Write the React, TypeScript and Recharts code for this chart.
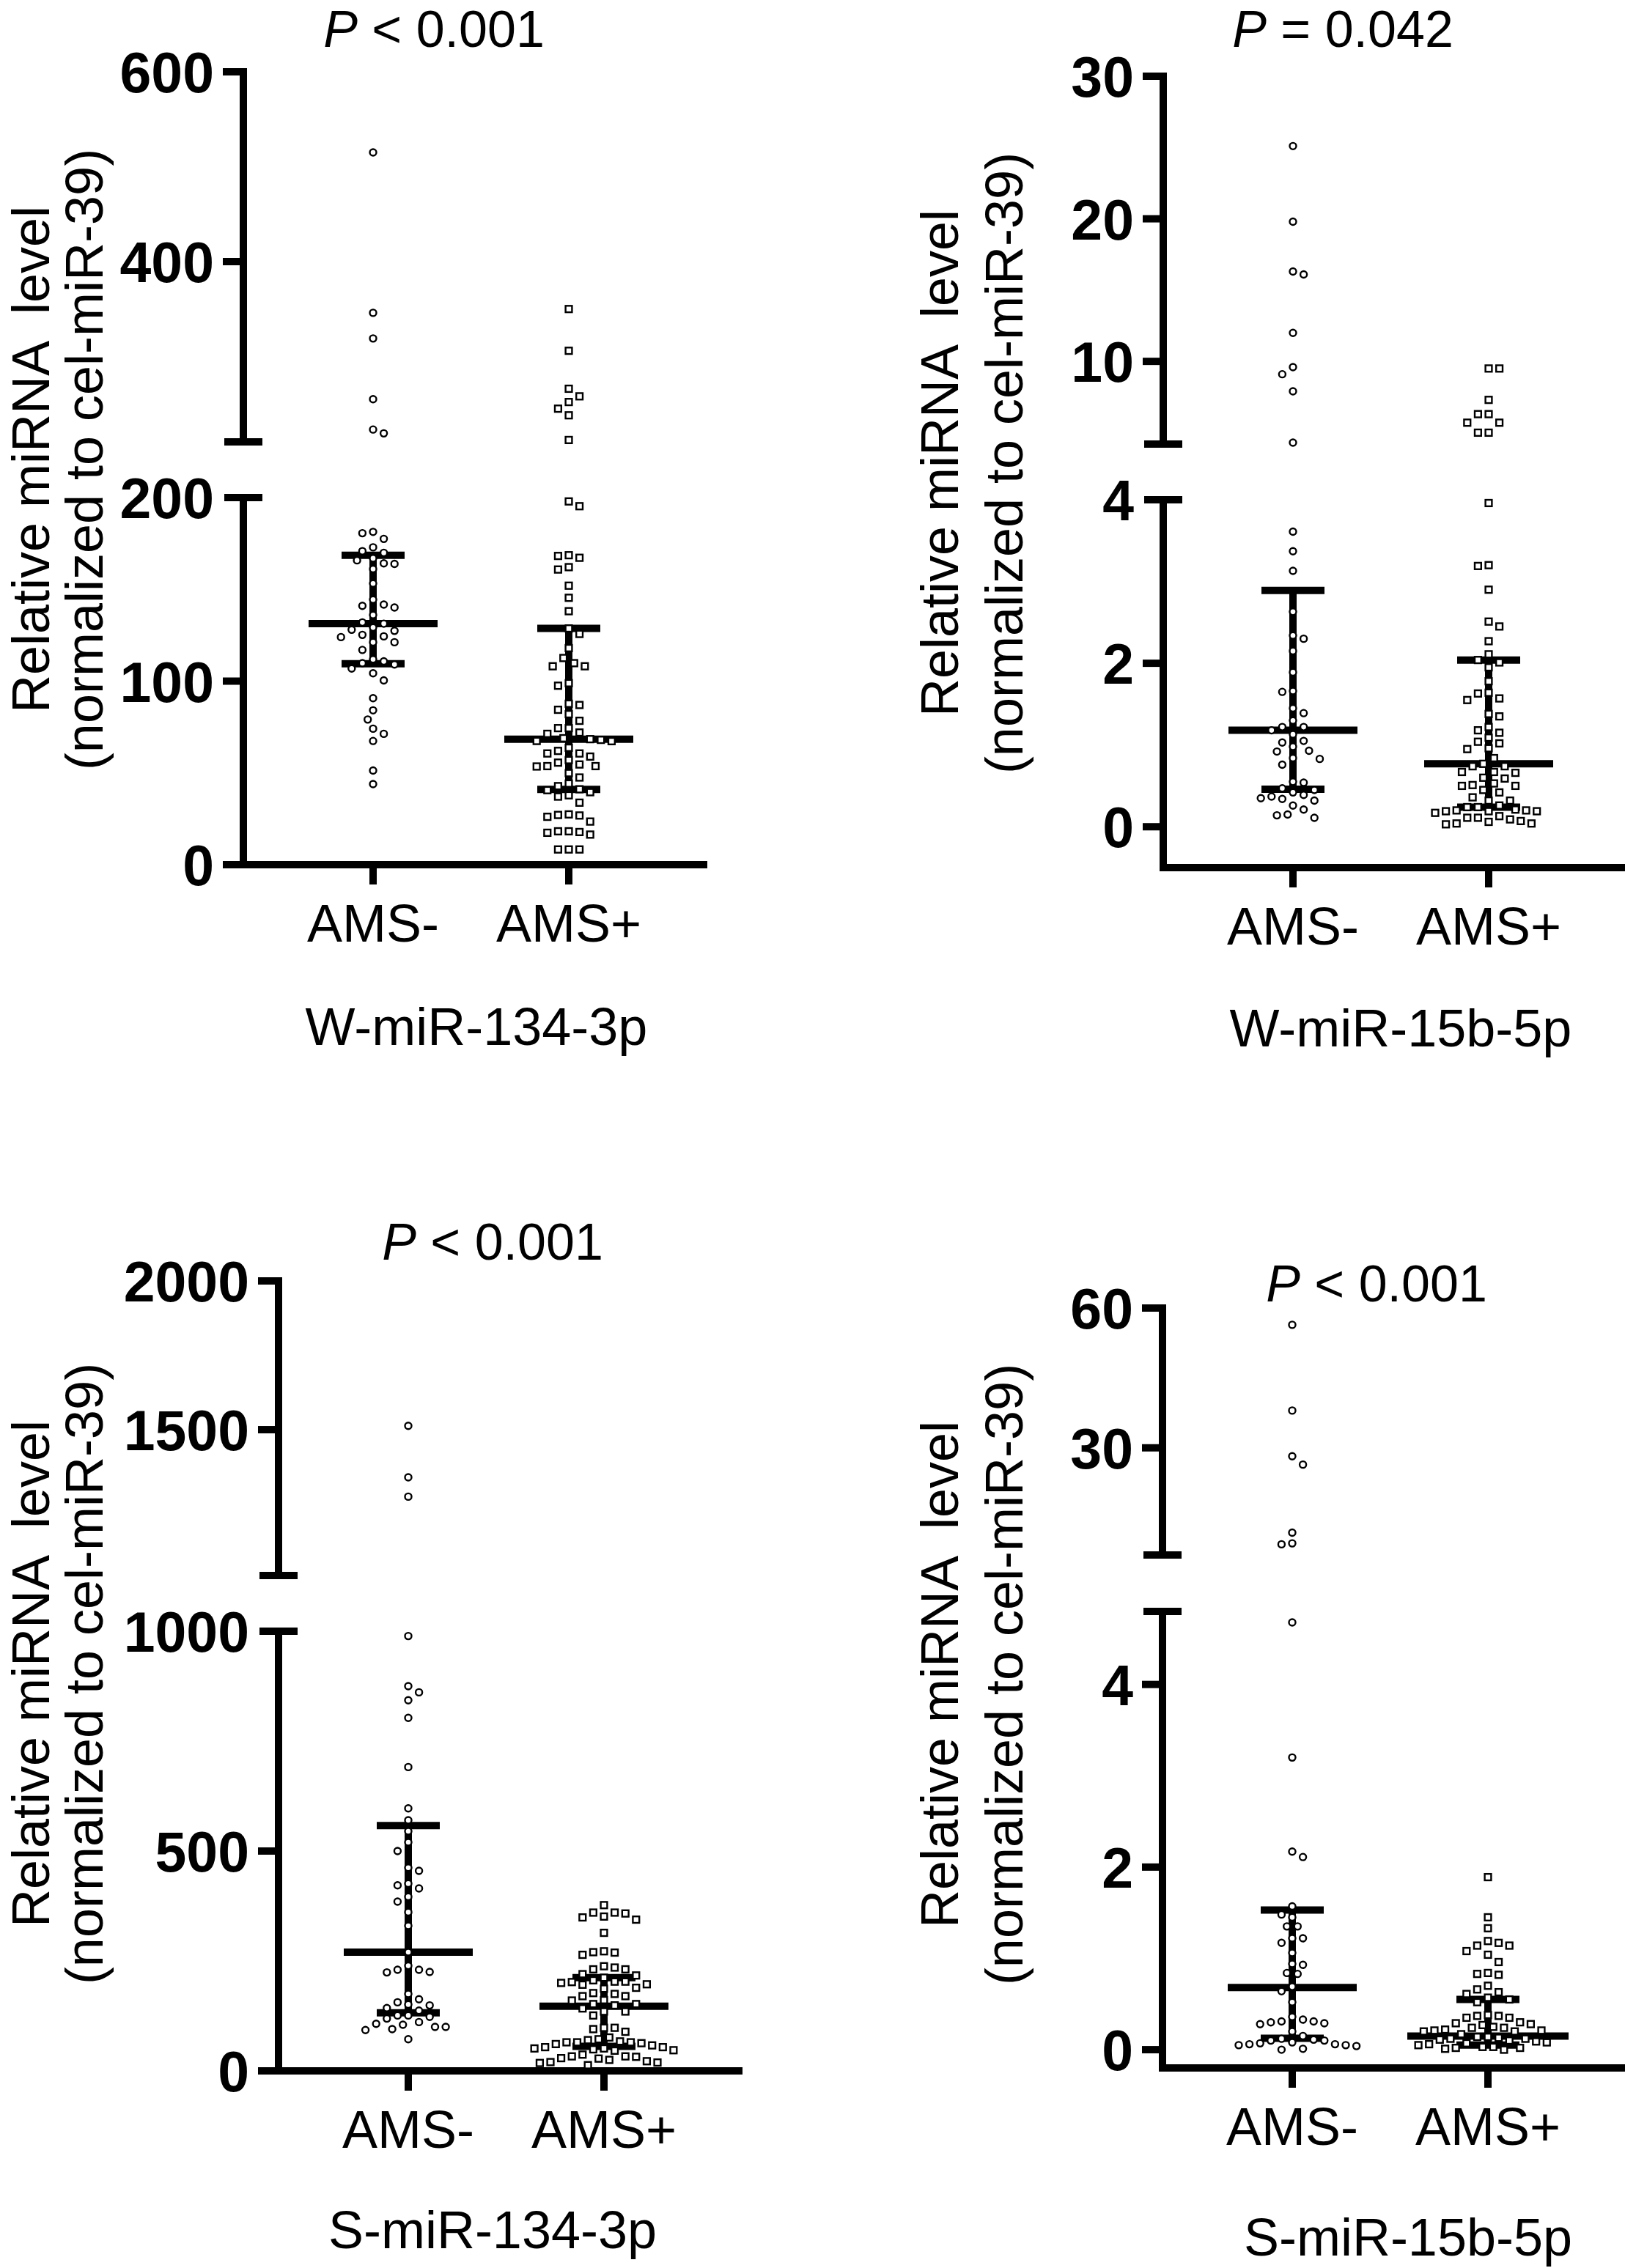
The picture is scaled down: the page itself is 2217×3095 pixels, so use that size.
import React from 'react';
import { ScatterChart, Scatter, XAxis, YAxis } from 'recharts';

const FONT = '"Liberation Sans", Arial, Helvetica, sans-serif';

const groups = ['AMS-', 'AMS+'];
const groupPos = [1, 2];

// W-miR-134-3p
const w134Neg = [515, 346, 319, 255, 223, 219,
  181.3, 180.6, 177.5, 172.9, 170.8, 169.9, 166.9, 165.8, 164.2, 163.9, 161.1, 153.2, 144.4, 141.7,
  141.0, 140.1, 136.0, 132.0, 131.3, 129.2, 128.0, 127.4, 125.2, 124.4, 124.0, 121.2, 121.2, 117.0,
  111.9, 110.8, 109.8, 109.1, 106.9, 104.3, 100.4, 90.7, 84.1, 79.1, 74.1, 71.3, 67.4, 51.3, 43.9];
const w134Pos = [350, 306, 266, 258, 252, 245, 238, 212,
  197.9, 195.3, 168.6, 168.2, 167.2, 162.1, 160.8, 152.0, 145.4, 138.1, 128.7, 125.7, 118.0, 112.6,
  109.8, 108.1, 108.1, 98.9, 97.5, 87.7, 87.0, 84.4, 82.0, 78.4, 74.4, 74.4, 72.0, 71.3, 68.9, 68.4,
  68.0, 67.4, 67.3, 63.7, 62.0, 60.6, 60.6, 58.9, 57.0, 55.6, 54.6, 53.7, 53.7, 53.5, 49.9, 47.5,
  44.2, 42.8, 41.1, 40.6, 39.5, 37.8, 37.1, 33.8, 27.4, 27.1, 26.8, 26.1, 23.5, 18.2, 18.2, 17.8,
  17.4, 16.4, 8.3, 8.3, 8.3];
const w134Median = [131.3, 68.4];
const w134Q1 = [109.5, 41];
const w134Q3 = [168.6, 128.7];
const w134UpperDomain = [210, 600];
const w134UpperLabels = [400, 600];
const w134LowerDomain = [0, 200];
const w134LowerLabels = [0, 100, 200];

// W-miR-15b-5p
const w15bNeg = [25.1, 19.8, 16.3, 16.1, 12.0, 9.6, 9.1, 7.9, 4.3,
  3.61, 3.37, 3.13, 2.63, 2.34, 2.30, 2.15, 1.89, 1.66, 1.65, 1.45, 1.39, 1.30, 1.22, 1.22, 1.18,
  1.13, 1.05, 1.03, 0.98, 0.93, 0.92, 0.84, 0.83, 0.76, 0.55, 0.54, 0.47, 0.45, 0.42, 0.39, 0.37,
  0.35, 0.34, 0.32, 0.26, 0.21, 0.15, 0.14, 0.11];
const w15bPos = [9.5, 9.5, 7.3, 6.3, 6.3, 5.7, 5.7, 5.0, 5.0,
  3.96, 3.20, 3.19, 2.90, 2.51, 2.45, 2.27, 2.11, 2.04, 2.01, 1.95, 1.78, 1.64, 1.63, 1.57, 1.55,
  1.38, 1.35, 1.22, 1.18, 1.15, 1.09, 1.04, 1.02, 0.96, 0.95, 0.84, 0.77, 0.74, 0.74, 0.67, 0.67,
  0.66, 0.60, 0.59, 0.53, 0.51, 0.50, 0.50, 0.45, 0.42, 0.36, 0.32, 0.32, 0.26, 0.24, 0.24, 0.21,
  0.20, 0.20, 0.19, 0.19, 0.19, 0.17, 0.13, 0.11, 0.11, 0.09, 0.07, 0.06, 0.04, 0.04, 0.03];
const w15bMedian = [1.18, 0.77];
const w15bQ1 = [0.46, 0.24];
const w15bQ3 = [2.89, 2.04];
const w15bUpperDomain = [4.2, 30];
const w15bUpperLabels = [10, 20, 30];
const w15bLowerDomain = [-0.5, 4];
const w15bLowerLabels = [0, 2, 4];

// S-miR-134-3p
const s134Neg = [1513, 1340, 1275,
  989, 875, 861, 843, 803, 691, 597, 570, 545, 520, 500, 462, 455, 426, 422, 415, 396, 385, 361,
  330, 270, 239, 230, 230, 225, 224, 175, 163, 156, 151, 149, 143, 137, 126, 126, 123, 119, 111,
  107, 105, 100, 100, 95, 93, 72];
const s134Pos = [377, 360, 360, 358, 351, 349, 344, 314, 272, 270, 269, 264, 238, 235, 231, 231,
  220, 217, 212, 206, 203, 203, 202, 200, 197, 196, 189, 187, 177, 175, 170, 170, 161, 160, 152,
  152, 149, 142, 135, 135, 126, 98, 98, 95, 89, 76, 72, 70, 67, 65, 65, 65, 63, 61, 58, 54, 54, 51,
  51, 49, 47, 46, 37, 33, 33, 32, 29, 28, 25, 22, 20, 19, 18, 13];
const s134Median = [270, 147];
const s134Q1 = [132, 56];
const s134Q3 = [558, 212];
const s134UpperDomain = [1010, 2000];
const s134UpperLabels = [1500, 2000];
const s134LowerDomain = [0, 1000];
const s134LowerLabels = [0, 500, 1000];

// S-miR-15b-5p
const s15bNeg = [56.4, 38.0, 28.2, 26.4, 11.8, 9.5, 9.3,
  4.68, 3.20, 2.17, 2.11, 1.57, 1.48, 1.45, 1.35, 1.35, 1.22, 1.22, 1.17, 1.06, 0.94, 0.93, 0.84,
  0.83, 0.69, 0.64, 0.52, 0.36, 0.33, 0.31, 0.31, 0.30, 0.29, 0.28, 0.20, 0.15, 0.12, 0.11, 0.10,
  0.10, 0.08, 0.07, 0.06, 0.06, 0.05, 0.05, 0.04, 0.01, 0.00];
const s15bPos = [1.89, 1.45, 1.33, 1.19, 1.17, 1.14, 1.14, 1.08, 1.04, 0.96, 0.84, 0.83, 0.82,
  0.70, 0.66, 0.63, 0.61, 0.57, 0.55, 0.52, 0.38, 0.37, 0.37, 0.35, 0.35, 0.30, 0.29, 0.28, 0.27,
  0.25, 0.24, 0.24, 0.22, 0.21, 0.21, 0.20, 0.20, 0.17, 0.14, 0.14, 0.13, 0.12, 0.12, 0.11, 0.10,
  0.09, 0.08, 0.07, 0.06, 0.05, 0.03, 0.03, 0.02, 0.02, 0.01, 0.00];
const s15bMedian = [0.68, 0.15];
const s15bQ1 = [0.125, 0.05];
const s15bQ3 = [1.53, 0.55];
const s15bUpperDomain = [7, 60];
const s15bUpperLabels = [30, 60];
const s15bLowerDomain = [-0.2, 4.8];
const s15bLowerLabels = [0, 2, 4];

// geometry (px)
const PX_PER_X = 267;
const PLOT_W = 628;
const X_DOMAIN = [1 - 177 / PX_PER_X, 1 - 177 / PX_PER_X + PLOT_W / PX_PER_X];
const Y_W = 220;
const X_H = 150;
const PAD = 45;
const LW = 10;
const STEP = 7.3;
const MIN_DIST = 14.2;

const panels = [
  {
    values: [w134Neg, w134Pos], median: w134Median, q1: w134Q1, q3: w134Q3,
    upper: { domain: w134UpperDomain, labels: w134UpperLabels, top: 98, bottom: 603 },
    lower: { domain: w134LowerDomain, labels: w134LowerLabels, top: 679, bottom: 1180 },
    axisX: 332, title: ' < 0.001', titleX: 592, titleY: 64,
    name: 'W-miR-134-3p', nameX: 650, nameY: 1426, labelX: [67, 140], labelY: 627, medianHalf: [88, 88],
  },
  {
    values: [w15bNeg, w15bPos], median: w15bMedian, q1: w15bQ1, q3: w15bQ3,
    upper: { domain: w15bUpperDomain, labels: w15bUpperLabels, top: 104, bottom: 606 },
    lower: { domain: w15bLowerDomain, labels: w15bLowerLabels, top: 682, bottom: 1184 },
    axisX: 1587, title: ' = 0.042', titleX: 1832, titleY: 64,
    name: 'W-miR-15b-5p', nameX: 1911, nameY: 1428, labelX: [1307, 1395], labelY: 632, medianHalf: [88, 88],
  },
  {
    values: [s134Neg, s134Pos], median: s134Median, q1: s134Q1, q3: s134Q3,
    upper: { domain: s134UpperDomain, labels: s134UpperLabels, top: 1748, bottom: 2150 },
    lower: { domain: s134LowerDomain, labels: s134LowerLabels, top: 2226, bottom: 2826 },
    axisX: 380, title: ' < 0.001', titleX: 672, titleY: 1719,
    name: 'S-miR-134-3p', nameX: 672, nameY: 3068, labelX: [67, 140], labelY: 2284, medianHalf: [88, 88],
  },
  {
    values: [s15bNeg, s15bPos], median: s15bMedian, q1: s15bQ1, q3: s15bQ3,
    upper: { domain: s15bUpperDomain, labels: s15bUpperLabels, top: 1785, bottom: 2122 },
    lower: { domain: s15bLowerDomain, labels: s15bLowerLabels, top: 2199, bottom: 2822 },
    axisX: 1586, title: ' < 0.001', titleX: 1878, titleY: 1776,
    name: 'S-miR-15b-5p', nameX: 1921, nameY: 3078, labelX: [1307, 1395], labelY: 2285, medianHalf: [88, 110],
  },
];

type Seg = { domain: number[]; labels: number[]; top: number; bottom: number };

const segPy = (seg: Seg, v: number) =>
  seg.top + ((seg.domain[1] - v) * (seg.bottom - seg.top)) / (seg.domain[1] - seg.domain[0]);

// simple beeswarm: horizontal offsets (px) so the markers do not overlap
function swarm(values: number[], toPy: (v: number) => number): number[] {
  const order = values.map((_, i) => i).sort((a, b) => values[b] - values[a]);
  const placed: { px: number; py: number }[] = [];
  const out = new Array(values.length).fill(0);
  let flip = 1;
  for (const i of order) {
    const py = toPy(values[i]);
    const near = placed.filter((p) => Math.abs(p.py - py) < MIN_DIST);
    let chosen = 0;
    for (let k = 0; k < 60; k++) {
      const cands = k === 0 ? [0] : [flip * k * STEP, -flip * k * STEP];
      const ok = cands.find((c) => near.every((p) => Math.hypot(p.px - c, p.py - py) >= MIN_DIST));
      if (ok !== undefined) {
        chosen = ok;
        break;
      }
    }
    if (chosen !== 0) flip = -flip;
    placed.push({ px: chosen, py });
    out[i] = chosen;
  }
  return out;
}

const Circle = (p: any) => (
  <circle cx={p.cx} cy={p.cy} r={4.5} fill="#fff" stroke="#000" strokeWidth={2.4} />
);
const Square = (p: any) => (
  <rect x={p.cx - 4.4} y={p.cy - 4.4} width={8.8} height={8.8} fill="#fff" stroke="#000" strokeWidth={2.4} />
);
const Nothing = () => <g />;

const renderYTick = (p: any, labels: number[], cap: number) => {
  const v = p.payload.value;
  const isCap = Math.abs(v - cap) < 1e-9;
  return (
    <g>
      <line x1={p.x - (isCap ? 26 : 28)} x2={p.x + (isCap ? 26 : 0)} y1={p.y} y2={p.y} stroke="#000" strokeWidth={LW} />
      {labels.includes(v) && (
        <text x={p.x - 40} y={p.y + 28} textAnchor="end" fontFamily={FONT} fontWeight="bold" fontSize={77} fill="#000">
          {v}
        </text>
      )}
    </g>
  );
};

const renderXTick = (p: any) => (
  <g>
    <line x1={p.x} x2={p.x} y1={p.y} y2={p.y + 27} stroke="#000" strokeWidth={LW} />
    <text x={p.x} y={p.y + 105} textAnchor="middle" fontFamily={FONT} fontSize={72} fill="#000">
      {groups[groupPos.indexOf(p.payload.value)]}
    </text>
  </g>
);

function Segment({ panel, which }: { panel: any; which: 'upper' | 'lower' }) {
  const seg: Seg = panel[which];
  const isLower = which === 'lower';
  const segH = seg.bottom - seg.top;
  const cap = isLower ? seg.domain[1] : seg.domain[0];
  const ticks = Array.from(new Set([...seg.labels, cap])).sort((a, b) => a - b);
  const limit = panel.lower.domain[1];
  const toPy = (v: number) => (v > limit ? segPy(panel.upper, v) : segPy(panel.lower, v));

  const pointSets = panel.values.map((vals: number[], g: number) => {
    const offs = swarm(vals, toPy);
    return vals
      .map((v, i) => ({ x: groupPos[g] + offs[i] / PX_PER_X, y: v }))
      .filter((d) => (isLower ? d.y <= limit : d.y > limit));
  });

  const summary: { key: string; data: { x: number; y: number }[] }[] = [];
  if (isLower) {
    groupPos.forEach((gx, g) => {
      const mh = panel.medianHalf[g] / PX_PER_X;
      const ch = 43 / PX_PER_X;
      summary.push({ key: `v${g}`, data: [{ x: gx, y: panel.q1[g] }, { x: gx, y: panel.q3[g] }] });
      summary.push({ key: `t${g}`, data: [{ x: gx - ch, y: panel.q3[g] }, { x: gx + ch, y: panel.q3[g] }] });
      summary.push({ key: `b${g}`, data: [{ x: gx - ch, y: panel.q1[g] }, { x: gx + ch, y: panel.q1[g] }] });
      summary.push({ key: `m${g}`, data: [{ x: gx - mh, y: panel.median[g] }, { x: gx + mh, y: panel.median[g] }] });
    });
  }

  const width = Y_W + PLOT_W + 20;
  const height = PAD + segH + (isLower ? X_H : 20);

  return (
    <div style={{ position: 'absolute', left: panel.axisX - Y_W, top: seg.top - PAD }}>
      <ScatterChart width={width} height={height} margin={{ top: PAD, right: 20, bottom: isLower ? 0 : 20, left: 0 }}>
        <XAxis
          type="number"
          dataKey="x"
          domain={X_DOMAIN}
          ticks={groupPos}
          interval={0}
          hide={!isLower}
          height={X_H}
          tickSize={0}
          tickMargin={0}
          tick={renderXTick}
          axisLine={{ stroke: '#000', strokeWidth: LW, strokeLinecap: 'square' }}
        />
        <YAxis
          type="number"
          dataKey="y"
          domain={seg.domain}
          ticks={ticks}
          interval={0}
          width={Y_W}
          tickSize={0}
          tickMargin={0}
          tick={(p: any) => renderYTick(p, seg.labels, cap)}
          axisLine={{ stroke: '#000', strokeWidth: LW, strokeLinecap: 'square' }}
        />
        {summary.map((s) => (
          <Scatter
            key={s.key}
            data={s.data}
            shape={Nothing}
            line={{ stroke: '#000', strokeWidth: LW }}
            isAnimationActive={false}
          />
        ))}
        <Scatter data={pointSets[0]} shape={Circle} isAnimationActive={false} />
        <Scatter data={pointSets[1]} shape={Square} isAnimationActive={false} />
      </ScatterChart>
    </div>
  );
}

export default function App() {
  return (
    <div style={{ position: 'absolute', left: 0, top: 0, width: 2217, height: 3095, background: '#fff' }}>
      <svg width={2217} height={3095} style={{ position: 'absolute', left: 0, top: 0 }}>
        {panels.map((p, i) => (
          <g key={i} fontFamily={FONT} fill="#000">
            <text x={p.titleX} y={p.titleY} textAnchor="middle" fontSize={70} xmlSpace="preserve" style={{ whiteSpace: 'pre' }}>
              <tspan fontStyle="italic">P</tspan>
              {p.title}
            </text>
            <text x={p.nameX} y={p.nameY} textAnchor="middle" fontSize={72}>
              {p.name}
            </text>
            <text
              transform={`translate(${p.labelX[0]},${p.labelY}) rotate(-90)`}
              textAnchor="middle"
              fontSize={72}
              xmlSpace="preserve"
              style={{ whiteSpace: 'pre' }}
            >
              {'Relative miRNA  level'}
            </text>
            <text transform={`translate(${p.labelX[1]},${p.labelY}) rotate(-90)`} textAnchor="middle" fontSize={72}>
              (normalized to cel-miR-39)
            </text>
          </g>
        ))}
      </svg>
      {panels.map((p, i) => (
        <React.Fragment key={i}>
          <Segment panel={p} which="upper" />
          <Segment panel={p} which="lower" />
        </React.Fragment>
      ))}
    </div>
  );
}
